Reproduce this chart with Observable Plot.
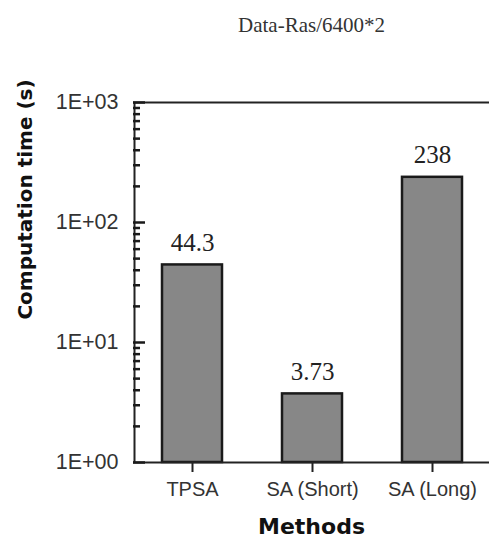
<!DOCTYPE html>
<html>
<head>
<meta charset="utf-8">
<script src="https://cdn.jsdelivr.net/npm/d3@7"></script>
<script src="https://cdn.jsdelivr.net/npm/@observablehq/plot@0.6"></script>
<style>
  html, body { margin: 0; padding: 0; background: #fff; }
  svg { display: block; }
</style>
</head>
<body>
<div id="chart"></div>
<script>
const methods = ["TPSA", "SA (Short)", "SA (Long)"];
const times = [44.3, 3.73, 238];
const labels = ["44.3", "3.73", "238"];
const majorTicks = [1, 10, 100, 1000];
const minorTicks = [2, 3, 4, 5, 6, 7, 8, 9, 20, 30, 40, 50, 60, 70, 80, 90, 200, 300, 400, 500, 600, 700, 800, 900];
const title = "Data-Ras/6400*2";
const xTitle = "Methods";
const yTitle = "Computation time (s)";

const data = methods.map((m, i) => ({method: m, time: times[i], label: labels[i]}));
const fmt = d => "1E+" + String(Math.round(Math.log10(d))).padStart(2, "0");

const chart = Plot.plot({
  width: 489,
  height: 537,
  marginLeft: 133,
  marginRight: 0,
  marginTop: 102,
  marginBottom: 75,
  x: {type: "band", domain: methods, range: [133, 490], paddingInner: 0.5, paddingOuter: 0.233},
  y: {type: "log", domain: [1, 1000]},
  marks: [
    Plot.barY(data, {x: "method", y1: 1, y2: "time", fill: "#878787", stroke: "#1a1a1a", strokeWidth: 2.5}),
    Plot.text(data, {x: "method", y: "time", text: "label", dy: -14, lineAnchor: "bottom",
      fontFamily: "Liberation Serif", fontSize: 25, fill: "#222"}),
    Plot.ruleY([1, 1000], {stroke: "#222", strokeWidth: 2}),
    Plot.ruleX([methods[0]], {dx: -58, stroke: "#222", strokeWidth: 2}),
    Plot.axisY({ticks: majorTicks, tickSize: 0, tickPadding: 15, tickFormat: fmt, label: null,
      fontFamily: "Liberation Sans", fontSize: 21.5, fill: "#333"}),
    Plot.axisX({tickSize: 10, tickPadding: 9, label: null, stroke: "#222", strokeWidth: 2,
      fontFamily: "Liberation Sans", fontSize: 20, fill: "#333"}),
    Plot.text([title], {frameAnchor: "top", dy: -71, lineAnchor: "bottom",
      fontFamily: "Liberation Serif", fontSize: 21, fill: "#333"}),
    Plot.text([xTitle], {frameAnchor: "bottom", dy: 71, lineAnchor: "bottom",
      fontFamily: "DejaVu Sans", fontWeight: "bold", fontSize: 22, fill: "#111"}),
    Plot.text([yTitle], {frameAnchor: "left", textAnchor: "middle", rotate: -90, dx: -108, dy: -83,
      fontFamily: "DejaVu Sans", fontWeight: "bold", fontSize: 20, fill: "#111"}),
    Plot.axisY({ticks: majorTicks, tickSize: 12, dx: 12, text: null, label: null, stroke: "#1a1a1a", strokeWidth: 2.5}),
    Plot.ruleY(minorTicks, {insetRight: 489 - 133 - 7, stroke: "#1a1a1a", strokeWidth: 2.5})
  ]
});
document.getElementById("chart").appendChild(chart);
</script>
</body>
</html>
